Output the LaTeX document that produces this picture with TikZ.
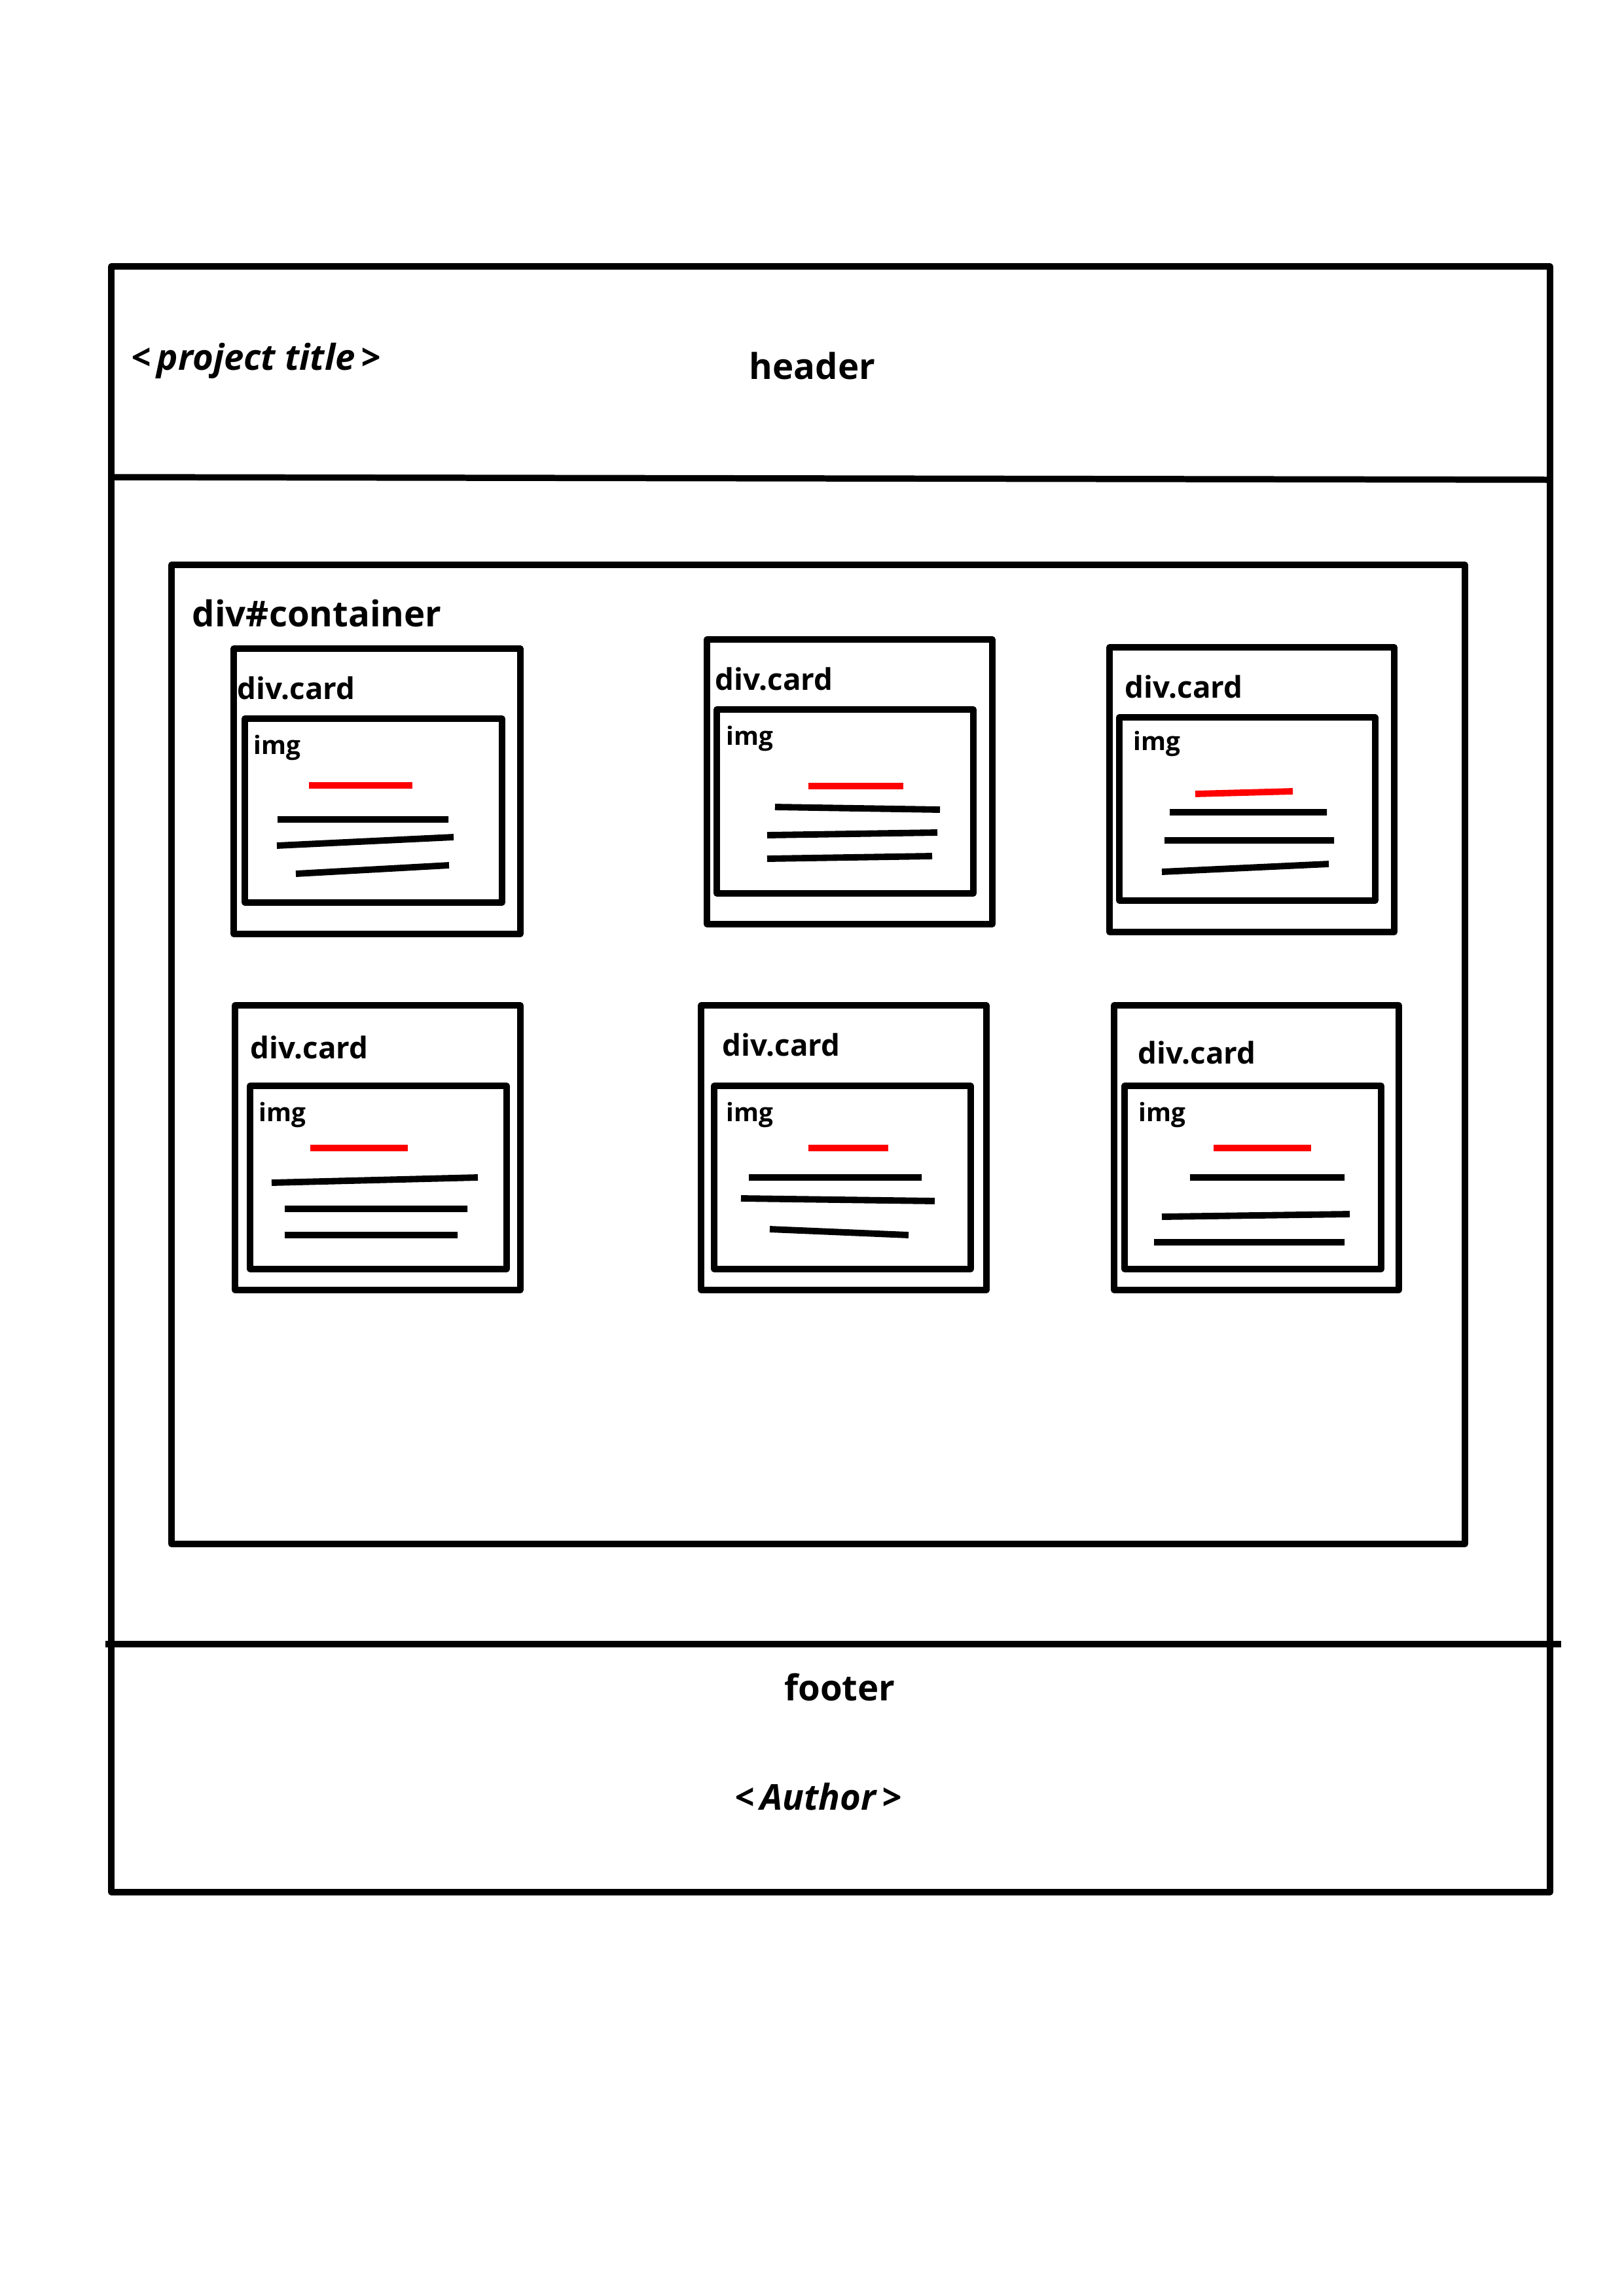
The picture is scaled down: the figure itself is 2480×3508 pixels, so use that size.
\documentclass[tikz,border=0pt]{standalone}
\usepackage{fontspec}
\setmainfont{Open Sans}
\begin{document}
\begin{tikzpicture}[x=0.01cm, y=-0.01cm, line join=round,
    frame/.style={line width=2.7pt},
    box/.style={line width=2.6pt},
    txtline/.style={line width=2.8pt},
    big/.style={font=\fontsize{15.5}{18}\selectfont\bfseries, inner sep=0pt},
    cardlbl/.style={font=\fontsize{13}{15}\selectfont\bfseries, inner sep=0pt, anchor=base west},
    imglbl/.style={font=\fontsize{11}{13}\selectfont\bfseries, inner sep=0pt, anchor=base west}]
\useasboundingbox (0,0) rectangle (2480,3508);
% page frame, header and footer
\draw[frame] (170,407) rectangle (2368,2891);
\draw[frame] (170,729) -- (2368,733);
\draw[frame] (161,2512) -- (2385,2512);
\node[big, anchor=base west] (title) at (200,565) {\itshape<\,project title\,>};
\node[big, anchor=base] (header) at (1241,579) {header};
\node[big, anchor=base] (footer) at (1283,2598) {footer};
\node[big, anchor=base] (author) at (1250,2765) {\itshape<\,Author\,>};
% container
\draw[frame] (262,863) rectangle (2238,2359);
\node[big, anchor=base west] (container) at (293,957) {div\#container};
% card 1
\draw[box] (357,991) rectangle (795,1427);
\draw[box] (374,1098) rectangle (767,1379);
\node[cardlbl] (card1) at (362,1068) {div.card};
\node[imglbl] (img1) at (387,1152) {img};
\draw[txtline, red] (472,1200) -- (630,1200);
\draw[txtline] (424,1252) -- (685,1252) (423,1292) -- (693,1279) (452,1335) -- (686,1322);
% card 2
\draw[box] (1080,977) rectangle (1516,1412);
\draw[box] (1095,1084) rectangle (1487,1365);
\node[cardlbl] (card2) at (1092,1054) {div.card};
\node[imglbl] (img2) at (1109,1138) {img};
\draw[txtline, red] (1235,1201) -- (1380,1201);
\draw[txtline] (1184,1233) -- (1436,1237) (1172,1276) -- (1432,1272) (1172,1312) -- (1424,1308);
% card 3
\draw[box] (1695,989) rectangle (2130,1424);
\draw[box] (1710,1096) rectangle (2101,1376);
\node[cardlbl] (card3) at (1718,1066) {div.card};
\node[imglbl] (img3) at (1731,1146) {img};
\draw[txtline, red] (1826,1213) -- (1975,1209);
\draw[txtline] (1787,1241) -- (2027,1241) (1779,1284) -- (2038,1284) (1775,1332) -- (2030,1320);
% card 4
\draw[box] (359,1536) rectangle (795,1971);
\draw[box] (382,1659) rectangle (774,1939);
\node[cardlbl] (card4) at (382,1617) {div.card};
\node[imglbl] (img4) at (395,1713) {img};
\draw[txtline, red] (474,1754) -- (623,1754);
\draw[txtline] (415,1807) -- (730,1799) (435,1847) -- (714,1847) (435,1887) -- (699,1887);
% card 5
\draw[box] (1071,1536) rectangle (1507,1971);
\draw[box] (1091,1659) rectangle (1483,1939);
\node[cardlbl] (card5) at (1103,1613) {div.card};
\node[imglbl] (img5) at (1109,1713) {img};
\draw[txtline, red] (1235,1754) -- (1357,1754);
\draw[txtline] (1144,1799) -- (1408,1799) (1132,1831) -- (1428,1835) (1176,1878) -- (1388,1887);
% card 6
\draw[box] (1702,1536) rectangle (2137,1971);
\draw[box] (1718,1659) rectangle (2110,1939);
\node[cardlbl] (card6) at (1738,1625) {div.card};
\node[imglbl] (img6) at (1739,1713) {img};
\draw[txtline, red] (1854,1754) -- (2003,1754);
\draw[txtline] (1818,1799) -- (2054,1799) (1775,1859) -- (2062,1855) (1763,1898) -- (2054,1898);
\end{tikzpicture}
\end{document}
